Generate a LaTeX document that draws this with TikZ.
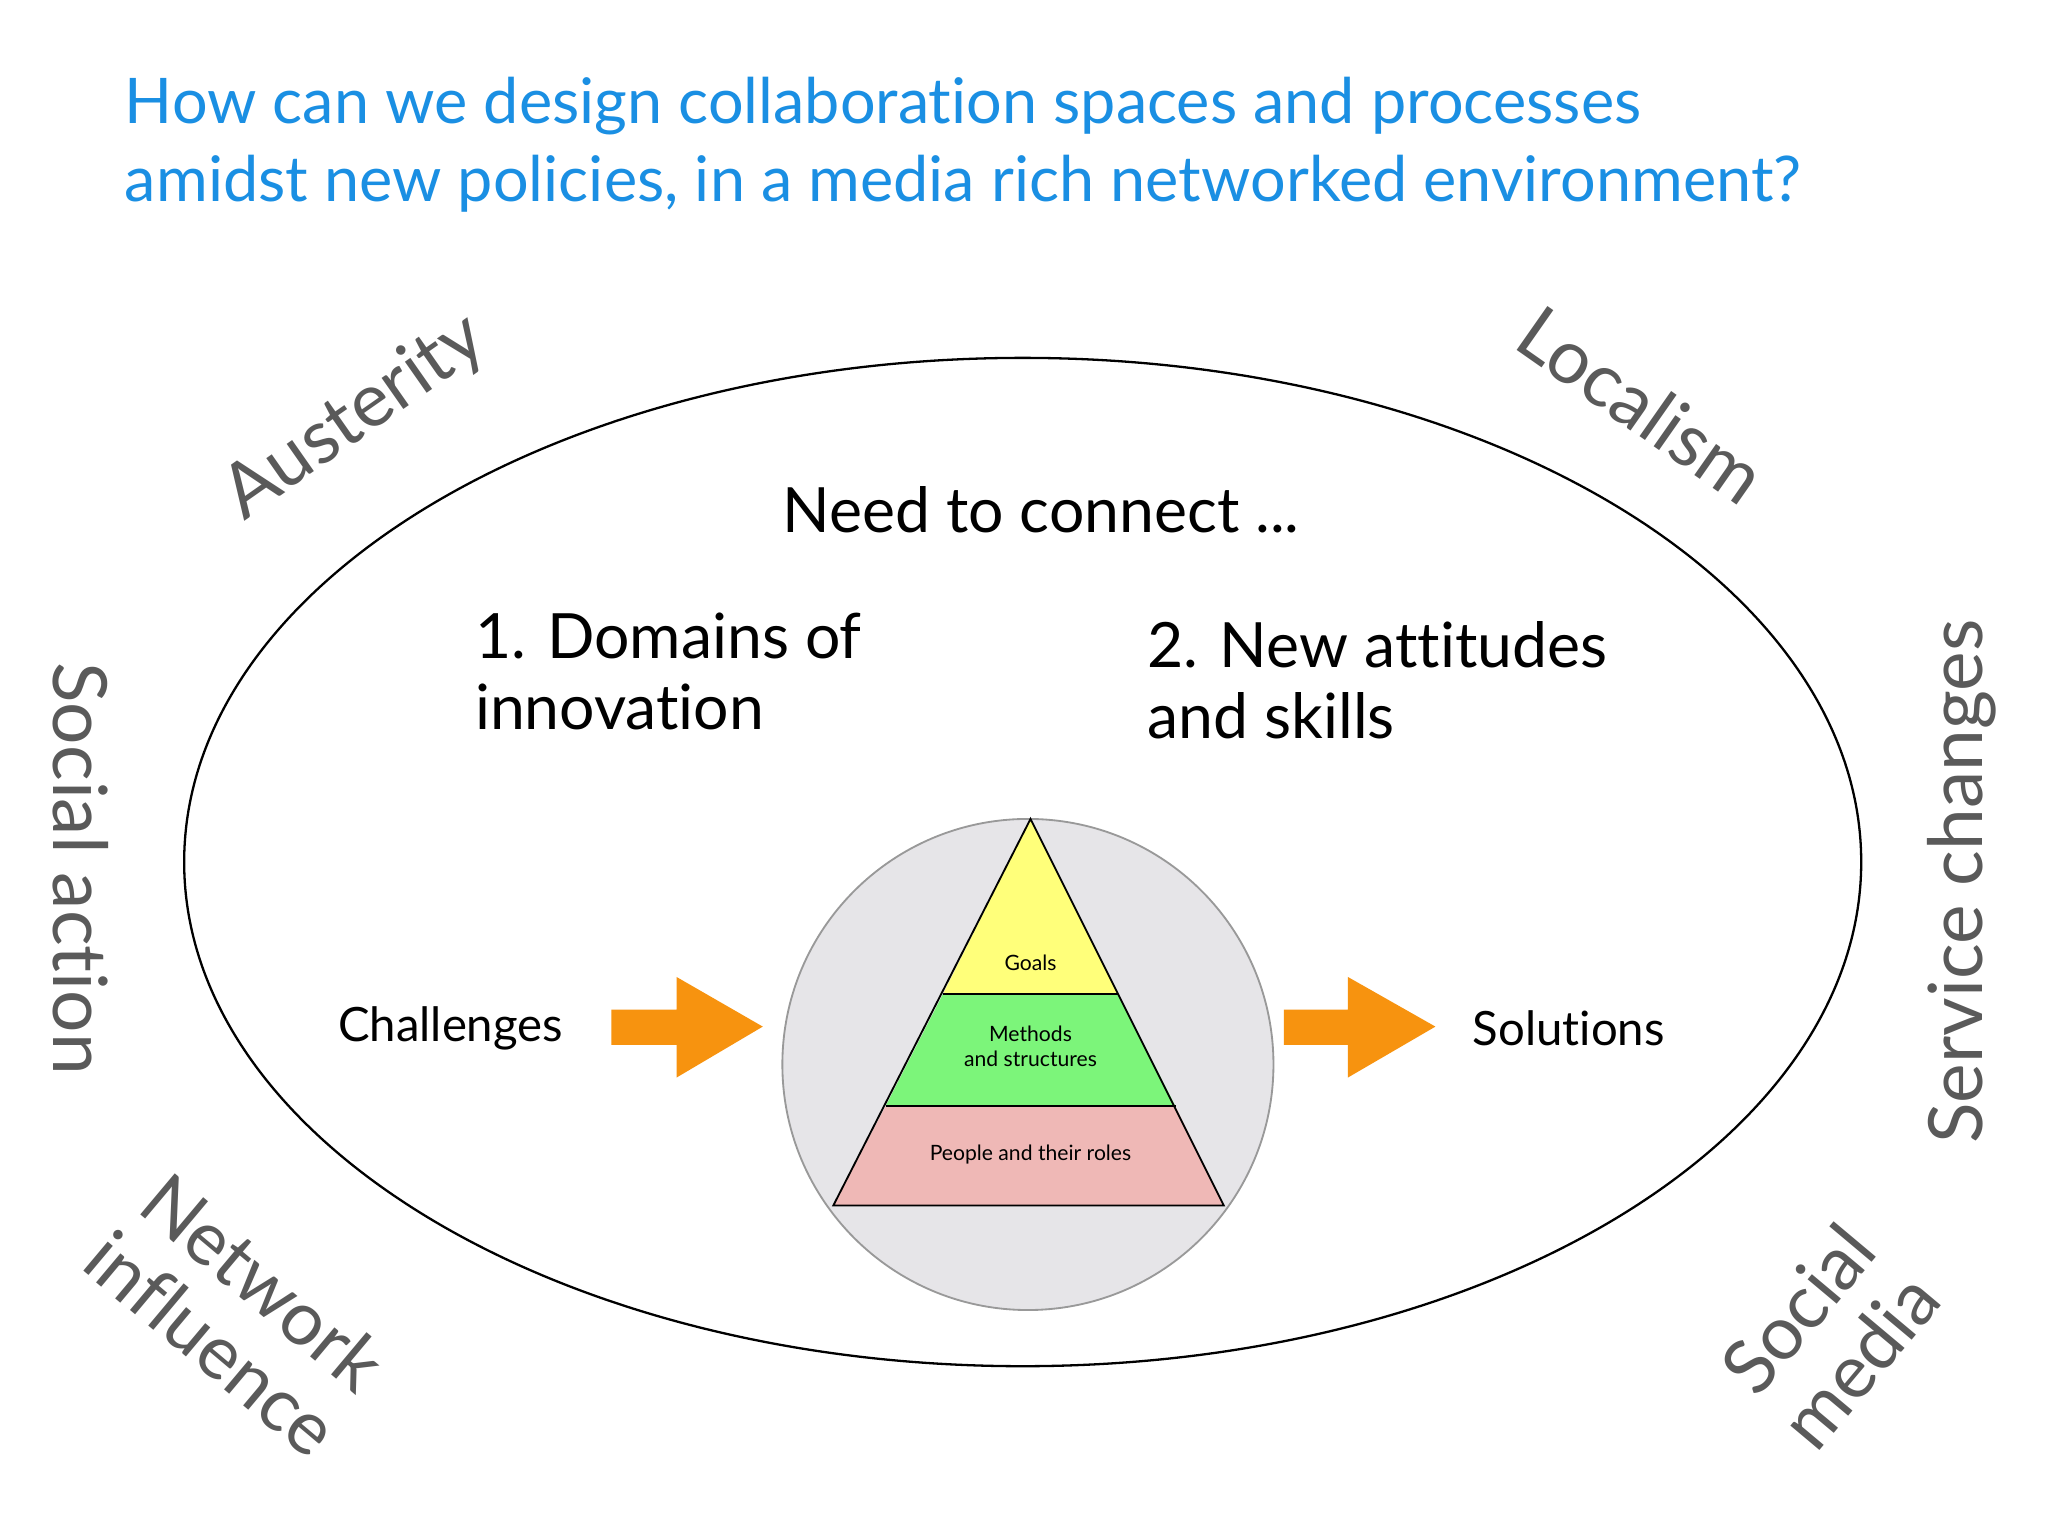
\documentclass[tikz,border=0pt]{standalone}
\usepackage{fontspec}
\setmainfont{Lato}[Ligatures={NoCommon}]
\definecolor{titleblue}{HTML}{1A8FE3}
\definecolor{labgray}{HTML}{5A5A5A}
\definecolor{circgray}{HTML}{E6E5E8}
\definecolor{arrorange}{HTML}{F7930F}
\definecolor{goalyellow}{HTML}{FFFF7A}
\definecolor{methgreen}{HTML}{7CF57A}
\definecolor{peoplepink}{HTML}{EFB8B6}
\begin{document}
\begin{tikzpicture}[x=0.01cm,y=-0.01cm,
  big/.style={font=\fontsize{13.6}{15.5}\selectfont,align=left},
  side/.style={font=\fontsize{16.3}{17.5}\selectfont,text=labgray,align=center},
  small/.style={font=\fontsize{4.6}{5.4}\selectfont,align=center},
  blockarrow/.style={fill=arrorange,draw=none}]
\useasboundingbox (0,0) rectangle (1568,1176);
\fill[white] (0,0) rectangle (1568,1176);
\node[anchor=north west,text=titleblue,font=\fontsize{13.7}{17}\selectfont,align=left,inner sep=0] (title) at (95,58)
 {How can we design collaboration spaces and processes\\amidst new policies, in a media rich networked environment?};
\draw[black,line width=0.5pt] (783,660) ellipse [x radius=642, y radius=386];
\node[circle,fill=circgray,draw=gray!80,minimum size=376*0.01cm,inner sep=0] (circ) at (787,815) {};
% pyramid
\fill[goalyellow] (789,627) -- (722,761) -- (856,761) -- cycle;
\fill[methgreen] (722,761) -- (678,847) -- (900,847) -- (856,761) -- cycle;
\fill[peoplepink] (678,847) -- (638,923) -- (937,923) -- (900,847) -- cycle;
\draw (789,627) -- (638,923) -- (937,923) -- cycle;
\draw (722,761) -- (856,761);
\draw (678,847) -- (900,847);
\node[small] (goals) at (789,737) {Goals};
\node[small] (meth) at (789,801) {Methods\\and structures};
\node[small] (people) at (789,884) {People and their roles};
% texts
\node[big] (need) at (797,390) {Need to connect ...};
\node[big,anchor=west,inner sep=0] (dom) at (363,514) {1. Domains of\\innovation};
\node[big,anchor=west,inner sep=0] (att) at (878,521) {2. New attitudes\\and skills};
\node[font=\fontsize{10.3}{12}\selectfont] (chal) at (345,787) {Challenges};
\node[font=\fontsize{10.3}{12}\selectfont] (sol) at (1201,787) {Solutions};
% arrows
\fill[blockarrow] (468,773) -- (518,773) -- (518,748) -- (584,786) -- (518,825) -- (518,800) -- (468,800) -- cycle;
\fill[blockarrow] (983,773) -- (1032,773) -- (1032,748) -- (1099,786) -- (1032,825) -- (1032,800) -- (983,800) -- cycle;
% side labels
\node[side,rotate=35] (aus) at (272,320) {Austerity};
\node[side,rotate=-35] (loc) at (1257,310) {Localism};
\node[side,rotate=-90] (sa) at (62,665) {Social action};
\node[side,rotate=90] (sc) at (1502,675) {Service changes};
\node[side,rotate=-40] (net) at (182,1005) {Network\\influence};
\node[side,rotate=50] (sm) at (1400,1022) {Social\\media};
\end{tikzpicture}
\end{document}
